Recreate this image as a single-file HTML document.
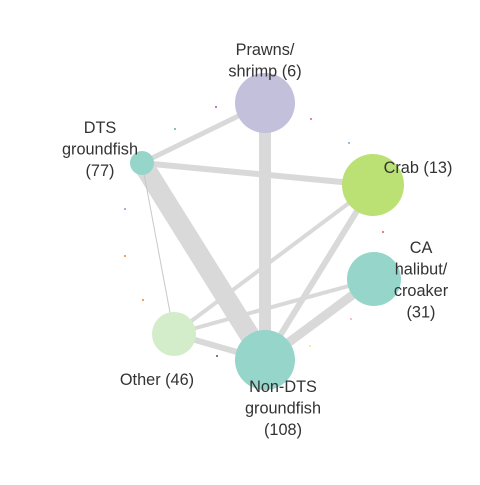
<!DOCTYPE html>
<html><head><meta charset="utf-8"><style>
html,body{margin:0;padding:0;background:#fff}
svg text{font-family:"Liberation Sans",sans-serif;font-size:16.3px;fill:#333;text-anchor:middle}
</style></head><body>
<svg id="chart" width="480" height="480"></svg>
<script>
const nodeNames=["Prawns/shrimp","DTS groundfish","Crab","CA halibut/croaker","Other","Non-DTS groundfish"];
const nodeX=[265,142,373,374,174,265];
const nodeY=[103,163,185,279,334,360];
const nodeSize=[30,12,31,27,22,30];
const nodeColor=["#c3c0dc","#96d5c9","#bbe074","#96d5c9","#d3ecc9","#96d5c9"];
const edgeFrom=[1,0,1,2,2,3,3,4,1,1];
const edgeTo=[5,5,0,5,4,5,4,5,2,4];
const edgeWeight=[20,12,5,6,4,9,4,6,6,1];
const dotX=[216,175,311,349,125,125,143,383,351,310,217];
const dotY=[107,129,119,143,209,256,300,232,319,346,356];
const dotColor=["#b77bbd","#7fc9b8","#e58c8c","#9bbbd6","#b5a9d6","#f5a05a","#f5a05a","#f07f7f","#f3c1d0","#f5f0a0","#8a6e9e"];
const labels=[["Prawns/","shrimp (6)"],["DTS","groundfish","(77)"],["Crab (13)"],["CA","halibut/","croaker","(31)"],["Other (46)"],["Non-DTS","groundfish","(108)"]];
const labelX=[265,100,418,421,157,283];
const labelY=[55,133,173,253,385,392];
const NS="http://www.w3.org/2000/svg";
const svg=document.getElementById('chart');
function mk(t,a){const e=document.createElementNS(NS,t);for(const k in a)e.setAttribute(k,a[k]);return e;}
for(let i=0;i<dotX.length;i++){
 const d=mk('rect',{x:dotX[i]-1,y:dotY[i]-1,width:2,height:2,fill:dotColor[i]});
 
 
 svg.appendChild(d);
}
for(let i=0;i<edgeFrom.length;i++){
 const a=edgeFrom[i],b=edgeTo[i];
 const l=mk('line',{x1:nodeX[a],y1:nodeY[a],x2:nodeX[b],y2:nodeY[b],stroke:edgeWeight[i]<2?'#c8c8c8':'#d9d9d9','stroke-width':edgeWeight[i]});
 
 
 svg.appendChild(l);
}
for(let i=0;i<nodeX.length;i++){
 const c=mk('circle',{cx:nodeX[i],cy:nodeY[i],r:nodeSize[i],fill:nodeColor[i]});
 
 
 svg.appendChild(c);
}
for(let i=0;i<labels.length;i++){
 const t=mk('text',{x:labelX[i],y:labelY[i]});
 
 
 labels[i].forEach((s,j)=>{const sp=mk('tspan',{x:labelX[i],dy:j?21.5:0});sp.textContent=s;t.appendChild(sp);});
 svg.appendChild(t);
}
</script>
</body></html>
